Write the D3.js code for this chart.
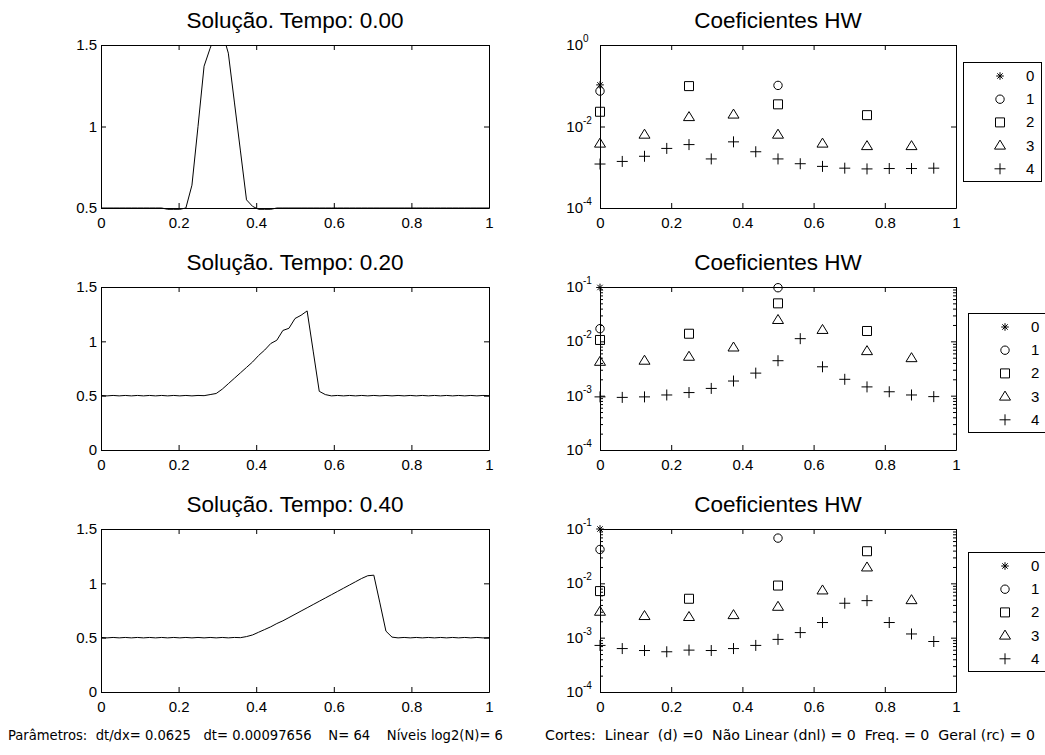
<!DOCTYPE html>
<html>
<head>
<meta charset="utf-8">
<script src="https://cdn.jsdelivr.net/npm/d3@7"></script>
<style>
  body { margin: 0; background: #fff; }
  text { fill: #000; }
</style>
</head>
<body>
<script>
// dados
var tempos = ['0.00', '0.20', '0.40'];
var xTicks = [0, 0.2, 0.4, 0.6, 0.8, 1];
var xTickLabels = ['0', '0.2', '0.4', '0.6', '0.8', '1'];

var solucao00 = [0.5,0.5,0.5,0.5,0.5,0.5,0.5,0.5,0.5,0.5,0.5,0.492,0.492,0.492,0.5,0.64,1.0,1.37,1.48,1.58,1.58,1.45,1.15,0.85,0.55,0.51,0.492,0.492,0.492,0.5,
  0.5,0.5,0.5,0.5,0.5,0.5,0.5,0.5,0.5,0.5,0.5,0.5,0.5,0.5,0.5,0.5,0.5,0.5,0.5,0.5,0.5,0.5,0.5,0.5,0.5,0.5,0.5,0.5,0.5,0.5,0.5,0.5,0.5,0.5,0.5];
var solucao20 = [0.502,0.498,0.502,0.498,0.502,0.498,0.502,0.498,0.502,0.498,0.502,0.498,0.502,0.498,0.502,0.498,0.502,0.5,
  0.51,0.52,0.56,0.61,0.66,0.71,0.76,0.81,0.87,0.92,0.98,1.01,1.10,1.12,1.21,1.24,1.28,0.91,0.54,0.51,
  0.498,0.502,0.498,0.502,0.498,0.502,0.498,0.502,0.498,0.502,0.498,0.502,0.498,0.502,0.498,0.502,0.498,0.502,0.498,0.502,0.498,0.502,0.498,0.502,0.498,0.502,0.5];
var solucao40 = [0.502,0.498,0.502,0.498,0.502,0.498,0.502,0.498,0.502,0.498,0.502,0.498,0.502,0.498,0.502,0.498,0.502,0.498,0.502,0.498,0.502,0.498,0.502,0.5,
  0.51,0.525,0.55,0.575,0.60,0.63,0.655,0.685,0.715,0.745,0.775,0.805,0.835,0.865,0.895,0.925,0.955,0.985,1.015,1.045,1.07,1.075,0.82,0.56,0.505,
  0.498,0.502,0.498,0.502,0.498,0.502,0.498,0.502,0.498,0.502,0.498,0.502,0.498,0.502,0.498,0.5];
var solucaoX = d3.range(solucao00.length).map(function(i){ return i / 64; });

var posNivel0 = [0];
var posNivel1 = [0, 0.5];
var posNivel2 = [0, 0.25, 0.5, 0.75];
var posNivel3 = [0, 0.125, 0.25, 0.375, 0.5, 0.625, 0.75, 0.875];
var posNivel4 = [0, 0.0625, 0.125, 0.1875, 0.25, 0.3125, 0.375, 0.4375, 0.5, 0.5625, 0.625, 0.6875, 0.75, 0.8125, 0.875, 0.9375];

var coef00_n0 = [0.105];
var coef00_n1 = [0.074, 0.102];
var coef00_n2 = [0.023, 0.098, 0.035, 0.019];
var coef00_n3 = [0.0038, 0.0063, 0.017, 0.0196, 0.0063, 0.0038, 0.0033, 0.0033];
var coef00_n4 = [0.0012, 0.00139, 0.00186, 0.0029, 0.0036, 0.0016, 0.0042, 0.0024, 0.0016, 0.00122, 0.00105, 0.00095, 0.00091, 0.00093, 0.00093, 0.00095];

var coef20_n0 = [0.098];
var coef20_n1 = [0.0171, 0.097];
var coef20_n2 = [0.0106, 0.0138, 0.05, 0.0155];
var coef20_n3 = [0.0042, 0.0044, 0.0052, 0.0077, 0.0247, 0.0162, 0.0066, 0.0049];
var coef20_n4 = [0.00095, 0.00093, 0.00095, 0.00103, 0.00114, 0.00136, 0.00186, 0.0026, 0.0044, 0.0112, 0.0034, 0.0020, 0.00145, 0.00118, 0.00103, 0.00096];

var coef40_n0 = [0.1];
var coef40_n1 = [0.042, 0.068];
var coef40_n2 = [0.0072, 0.0052, 0.0091, 0.039];
var coef40_n3 = [0.0030, 0.0025, 0.0024, 0.0026, 0.0037, 0.0074, 0.0196, 0.0049];
var coef40_n4 = [0.00072, 0.00063, 0.00058, 0.00055, 0.00059, 0.00058, 0.00063, 0.00072, 0.00093, 0.00124, 0.0019, 0.0043, 0.0048, 0.0019, 0.00117, 0.00085];

var niveis = ['0', '1', '2', '3', '4'];
var marcadores = ['star', 'circle', 'square', 'triangle', 'plus'];

var textoParametros = 'Parâmetros:  dt/dx= 0.0625   dt= 0.00097656    N= 64    Níveis log2(N)= 6';
var textoCortes = 'Cortes:  Linear  (d) =0  Não Linear (dnl) = 0  Freq. = 0  Geral (rc) = 0';

// layout
var W = 1045, H = 755;
var esqX = [101, 489], dirX = [600, 956];
var topos = [45, 287, 529], altura = 163;
var fonteEixo = '"Liberation Sans", Arial, sans-serif';
var fonteNarrow = '"Liberation Sans Narrow", "Arial Narrow", "DejaVu Sans Condensed", sans-serif';

var svg = d3.select('body').append('svg').attr('width', W).attr('height', H);
svg.append('rect').attr('width', W).attr('height', H).attr('fill', '#fff');

function marcador(tipo){
  var p = d3.path();
  if (tipo === 'star'){
    p.moveTo(-3.8, 0); p.lineTo(3.8, 0); p.moveTo(0, -3.8); p.lineTo(0, 3.8);
    p.moveTo(-2.7, -2.7); p.lineTo(2.7, 2.7); p.moveTo(-2.7, 2.7); p.lineTo(2.7, -2.7);
  } else if (tipo === 'circle'){
    p.moveTo(4.2, 0); p.arc(0, 0, 4.2, 0, 2 * Math.PI);
  } else if (tipo === 'square'){
    p.rect(-4.5, -4.5, 9, 9);
  } else if (tipo === 'triangle'){
    p.moveTo(0, -5.5); p.lineTo(5.5, 3.5); p.lineTo(-5.5, 3.5); p.closePath();
  } else {
    p.moveTo(-5.5, 0); p.lineTo(5.5, 0); p.moveTo(0, -5.5); p.lineTo(0, 5.5);
  }
  return p.toString();
}

function estiloEixo(g){
  g.attr('font-family', fonteEixo).attr('font-size', 15);
  g.selectAll('path, line').attr('stroke', '#000');
  g.selectAll('text').attr('fill', '#000');
}

function caixa(g, x, y, yTicks, yFmt, yMinor){
  var bot = y.range()[0], top = y.range()[1];
  var left = x.range()[0], right = x.range()[1];
  g.append('g').attr('transform', 'translate(0,' + bot + ')')
    .call(d3.axisBottom(x).tickValues(xTicks).tickSize(-5).tickSizeOuter(0).tickPadding(9)
      .tickFormat(function(d, i){ return xTickLabels[i]; }))
    .call(estiloEixo);
  g.append('g').attr('transform', 'translate(0,' + top + ')')
    .call(d3.axisTop(x).tickValues(xTicks).tickSize(-5).tickSizeOuter(0).tickFormat(''))
    .call(estiloEixo);
  g.append('g').attr('transform', 'translate(' + left + ',0)')
    .call(d3.axisLeft(y).tickValues(yTicks).tickSize(-5).tickSizeOuter(0).tickPadding(4).tickFormat(yFmt))
    .call(estiloEixo);
  g.append('g').attr('transform', 'translate(' + right + ',0)')
    .call(d3.axisRight(y).tickValues(yTicks).tickSize(-5).tickSizeOuter(0).tickFormat(''))
    .call(estiloEixo);
  if (yMinor){
    g.append('g').attr('transform', 'translate(' + left + ',0)')
      .call(d3.axisLeft(y).tickValues(yMinor).tickSize(-3).tickSizeOuter(0).tickFormat(''))
      .call(estiloEixo).select('.domain').remove();
    g.append('g').attr('transform', 'translate(' + right + ',0)')
      .call(d3.axisRight(y).tickValues(yMinor).tickSize(-3).tickSizeOuter(0).tickFormat(''))
      .call(estiloEixo).select('.domain').remove();
  }
}

function titulo(texto, cx, top){
  svg.append('text').attr('x', cx).attr('y', top - 17)
    .attr('text-anchor', 'middle')
    .attr('font-family', fonteEixo).attr('font-size', 22.5)
    .text(texto);
}

function painelSolucao(i, valores, yDom, yTicks){
  var top = topos[i], bot = top + altura;
  var x = d3.scaleLinear().domain([0, 1]).range(esqX);
  var y = d3.scaleLinear().domain(yDom).range([bot, top]);
  var g = svg.append('g');
  var clipId = 'clip' + i;
  g.append('clipPath').attr('id', clipId).append('rect')
    .attr('x', esqX[0]).attr('y', top).attr('width', esqX[1] - esqX[0]).attr('height', altura + 2);
  var linha = d3.line()
    .x(function(d, k){ return x(solucaoX[k]); })
    .y(function(d){ return y(d); });
  g.append('path').datum(valores)
    .attr('clip-path', 'url(#' + clipId + ')')
    .attr('fill', 'none').attr('stroke', '#000').attr('stroke-width', 1)
    .attr('d', linha);
  caixa(g, x, y, yTicks, function(d){ return String(d); });
  titulo('Solução. Tempo: ' + tempos[i], (esqX[0] + esqX[1]) / 2, top);
}

function painelCoef(i, series, yDom, maj, expoentes, minor, leg){
  var top = topos[i], bot = top + altura;
  var x = d3.scaleLinear().domain([0, 1]).range(dirX);
  var y = d3.scaleLog().domain(yDom).range([bot, top]);
  var g = svg.append('g');
  caixa(g, x, y, maj, function(){ return ''; }, minor);

  // rótulos 10^n
  var rot = g.append('g').attr('font-family', fonteEixo);
  maj.forEach(function(v, k){
    var yy = y(v);
    rot.append('text').attr('x', dirX[0] - 17).attr('y', yy + 5)
      .attr('text-anchor', 'end').attr('font-size', 15).text('10');
    rot.append('text').attr('x', dirX[0] - 17).attr('y', yy - 3)
      .attr('font-size', 10).text(expoentes[k]);
  });

  var posicoes = [posNivel0, posNivel1, posNivel2, posNivel3, posNivel4];
  series.forEach(function(vals, s){
    g.selectAll('.m' + s).data(vals).enter().append('path')
      .attr('transform', function(d, k){ return 'translate(' + x(posicoes[s][k]) + ',' + y(d) + ')'; })
      .attr('d', marcador(marcadores[s]))
      .attr('fill', 'none').attr('stroke', '#000').attr('stroke-width', 1);
  });

  // legenda
  var lg = svg.append('g').attr('transform', 'translate(' + leg.x + ',' + leg.y + ')');
  lg.append('rect').attr('x', 0.5).attr('y', 0.5).attr('width', 78).attr('height', 119)
    .attr('fill', '#fff').attr('stroke', '#000');
  niveis.forEach(function(nome, k){
    var yy = 14 + k * 23.2;
    lg.append('path').attr('transform', 'translate(37,' + yy + ')')
      .attr('d', marcador(marcadores[k])).attr('fill', 'none').attr('stroke', '#000');
    lg.append('text').attr('x', 63).attr('y', yy + 5)
      .attr('font-family', fonteEixo).attr('font-size', 15).text(nome);
  });

  titulo('Coeficientes HW', (dirX[0] + dirX[1]) / 2, top);
}

function minorLog(lo, hi){
  var out = [];
  for (var e = lo; e < hi; e++){
    for (var m = 2; m <= 9; m++) out.push(m * Math.pow(10, e));
  }
  return out;
}

painelSolucao(0, solucao00, [0.5, 1.5], [0.5, 1, 1.5]);
painelSolucao(1, solucao20, [0, 1.5], [0, 0.5, 1, 1.5]);
painelSolucao(2, solucao40, [0, 1.5], [0, 0.5, 1, 1.5]);

painelCoef(0, [coef00_n0, coef00_n1, coef00_n2, coef00_n3, coef00_n4], [1e-4, 1],
  [1, 1e-2, 1e-4], ['0', '-2', '-4'], null, {x: 963, y: 62});
painelCoef(1, [coef20_n0, coef20_n1, coef20_n2, coef20_n3, coef20_n4], [1e-4, 1e-1],
  [1e-1, 1e-2, 1e-3, 1e-4], ['-1', '-2', '-3', '-4'], minorLog(-4, -1), {x: 968, y: 313});
painelCoef(2, [coef40_n0, coef40_n1, coef40_n2, coef40_n3, coef40_n4], [1e-4, 1e-1],
  [1e-1, 1e-2, 1e-3, 1e-4], ['-1', '-2', '-3', '-4'], minorLog(-4, -1), {x: 968, y: 552});

// rodapé
svg.append('text').attr('x', 8).attr('y', 740)
  .attr('font-family', fonteNarrow).attr('font-size', 14)
  .attr('textLength', 495).attr('lengthAdjust', 'spacingAndGlyphs')
  .style('white-space', 'pre')
  .text(textoParametros);
svg.append('text').attr('x', 545).attr('y', 740)
  .attr('font-family', fonteNarrow).attr('font-size', 14)
  .attr('textLength', 490).attr('lengthAdjust', 'spacingAndGlyphs')
  .style('white-space', 'pre')
  .text(textoCortes);
</script>
</body>
</html>
